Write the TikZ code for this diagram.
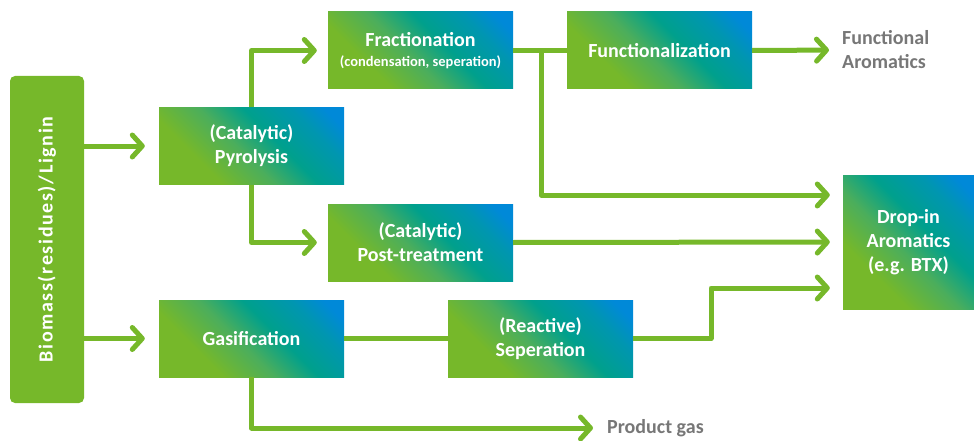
\documentclass[tikz,border=0pt]{standalone}
\usepackage{fontspec}
\setmainfont{Carlito}
\usepackage{graphicx}
\usetikzlibrary{arrows.meta,calc}
\definecolor{grn}{HTML}{76B82A}
\definecolor{gtl}{HTML}{4BAE5C}
\definecolor{tl}{HTML}{00A08C}
\definecolor{tbl}{HTML}{0096B0}
\definecolor{blu}{HTML}{0089D8}
\definecolor{gtxt}{HTML}{777777}
\pgfdeclarehorizontalshading{boxgrad}{100bp}{color(0bp)=(grn); color(32bp)=(grn); color(46bp)=(gtl); color(58bp)=(tl); color(71bp)=(tbl); color(80bp)=(blu); color(100bp)=(blu)}
\tikzset{
  proc/.style={shade, shading=boxgrad, shading angle=45, minimum width=185pt, minimum height=77pt,
    inner sep=0pt, text=white, align=center, font=\bfseries\fontsize{20}{24}\selectfont},
  biobox/.style={fill=grn, rounded corners=5pt, minimum width=74pt, minimum height=327pt, inner sep=0pt,
    text=white, font=\bfseries\fontsize{20}{24}\selectfont\addfontfeatures{LetterSpace=8}},
  gtext/.style={text=gtxt, inner sep=0pt, align=left, font=\bfseries\fontsize{20}{24}\selectfont},
  conn/.style={draw=grn, line width=5pt, line join=round},
  arr/.style={conn, -{Straight Barb[round,length=10pt,width=22pt]}}
}
\begin{document}
\begin{tikzpicture}[x=1pt,y=-1pt]
\useasboundingbox (0,0) rectangle (974,441);
\node[biobox] (bio) at (47,239.5) {\rotatebox{90}{Biomass(residues)/Lignin}};
\node[proc] (pyr) at (251.5,146) {(Catalytic)\\Pyrolysis};
\node[proc] (frac) at (420.5,50.5) {Fractionation\\[-4pt]{\fontsize{14.5}{17}\selectfont(condensation, seperation)}};
\node[proc] (func) at (659.5,50.5) {Functionalization};
\node[proc] (post) at (420.5,242.5) {(Catalytic)\\Post-treatment};
\node[proc] (gas) at (251.5,338.5) {Gasification};
\node[proc] (sep) at (540.5,338.5) {(Reactive)\\Seperation};
\node[proc, minimum width=131pt, minimum height=134pt] (drop) at (908.5,242) {Drop-in\\Aromatics\\(e.g. BTX)};
\node[gtext, anchor=west] (fa) at (842,50) {Functional\\Aromatics};
\node[gtext, anchor=west] (pg) at (607,428) {Product gas};
\coordinate (br) at (541,50.5);
\coordinate (el) at (711,288);
\draw[arr, shorten >=14pt] (bio.east |- pyr.west) -- (pyr.west);
\draw[arr, shorten >=14pt] (bio.east |- gas.west) -- (gas.west);
\draw[arr, shorten >=11pt] (pyr.north) |- (frac.west);
\draw[arr, shorten >=11pt] (pyr.south) |- (post.west);
\draw[conn] (frac.east) -- (func.west);
\draw[arr, shorten >=13pt] (func.east) -- (fa.west);
\draw[arr, shorten >=13pt] (br) |- ($(drop.west)+(0,-47)$);
\draw[arr, shorten >=13pt] (post.east) -- (drop.west);
\draw[conn] (gas.east) -- (sep.west);
\draw[arr, shorten >=13pt] (sep.east) -| (el) -- ($(drop.west)+(0,46)$);
\draw[arr, shorten >=14pt] (gas.south) |- (pg.west);
\end{tikzpicture}
\end{document}
